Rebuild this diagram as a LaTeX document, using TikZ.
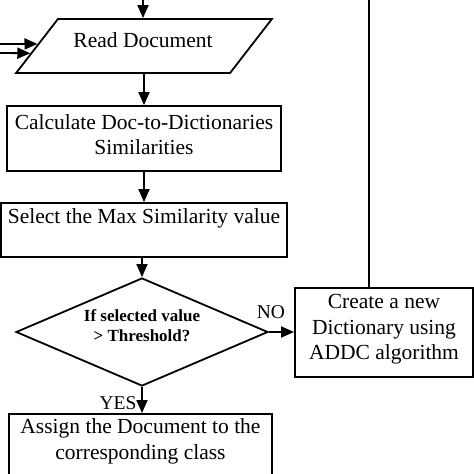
\documentclass[tikz,border=0pt]{standalone}
\usepackage{fontspec}
\setmainfont{Liberation Serif}
\usetikzlibrary{shapes.geometric,arrows.meta,calc}
\begin{document}
\begin{tikzpicture}[x=1pt,y=-1pt, line width=1.8pt,
  box/.style={draw, rectangle, inner sep=0pt},
  txt/.style={inner sep=0pt, align=center, font=\fontsize{21.5}{25.5}\selectfont},
  arr/.style={-{Triangle[length=13pt,width=11pt]}},
  lbl/.style={inner sep=0pt, font=\fontsize{19.5}{22}\selectfont}]
\clip (0,0) rectangle (474,474);
% nodes
\node[draw, trapezium, trapezium left angle=75.5, trapezium right angle=104.5,
      trapezium stretches, minimum width=256pt, minimum height=54pt, inner sep=2pt] (rd) at (144,46) {\phantom{X}};
\node[txt] (rdt) at (143,40) {Read Document};
\node[box, minimum width=274pt, minimum height=65pt] (cd) at (144,138.5) {};
\node[txt] (cdt) at (144,134.5) {Calculate Doc-to-Dictionaries\\Similarities};
\node[box, minimum width=286pt, minimum height=54pt] (sm) at (144,230) {};
\node[txt, anchor=base] (smt) at (144,223) {Select the Max Similarity value};
\node[draw, diamond, minimum width=252pt, minimum height=108pt, inner sep=2pt] (dm) at (142,332) {\phantom{X}};
\node[inner sep=0pt, align=center, font=\bfseries\fontsize{17}{19.5}\selectfont] (dmt) at (142,325.5) {If selected value\\> Threshold?};
\node[box, minimum width=178pt, minimum height=89pt] (cr) at (384,332.5) {};
\node[txt] (crt) at (384,329.5) {Create a new\\Dictionary using\\ADDC algorithm};
\node[box, minimum width=263pt, minimum height=100pt, anchor=north] (as) at (140.5,413) {};
\node[txt] (ast) at (140.5,441.5) {Assign the Document to the\\corresponding class};
\node[lbl] (no) at (271,312) {NO};
\node[lbl] (yes) at (118,403) {YES};
% free ends
\coordinate (top1) at (143,0);
\coordinate (top2) at (369,0);
\coordinate (in1) at (0,44);
\coordinate (in2) at (0,53);
% connectors
\draw[arr] (top1) -- (top1 |- rd.north);
\draw[arr] (in1) -- ($(rd.bottom left corner)!0.537!(rd.top left corner)$);
\draw[arr] (in2) -- ($(rd.bottom left corner)!0.37!(rd.top left corner)$);
\draw[arr] (rd.south) -- (cd.north);
\draw[arr] (cd.south) -- (sm.north);
\draw[arr] (sm.south -| dm.north) -- (dm.north);
\draw[arr] (dm.east) -- (dm.east -| cr.west);
\draw[arr] (dm.south) -- (dm.south |- as.north);
\draw (top2) -- (top2 |- cr.north);
\end{tikzpicture}
\end{document}
